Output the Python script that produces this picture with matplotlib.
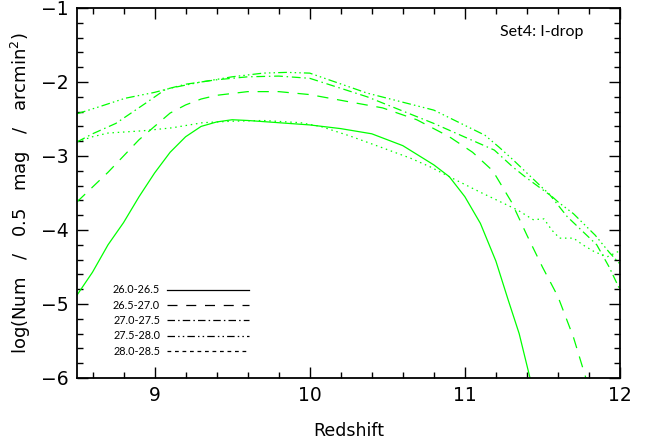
import matplotlib
matplotlib.use("Agg")
import matplotlib.pyplot as plt
from matplotlib.lines import Line2D
from matplotlib.ticker import MultipleLocator

# log(Num / 0.5 mag / arcmin^2) vs redshift, one curve per magnitude bin
z_a = [8.5, 8.6, 8.7, 8.8, 8.9, 9.0, 9.1, 9.2, 9.3, 9.4, 9.5, 9.6, 9.8, 10.0,
       10.2, 10.4, 10.6, 10.7, 10.8, 10.9, 11.0, 11.1, 11.2, 11.28, 11.35, 11.42]
m26_0 = [-4.88, -4.57, -4.2, -3.9, -3.55, -3.23, -2.95, -2.74, -2.6, -2.54, -2.51, -2.52, -2.55, -2.58,
         -2.63, -2.7, -2.86, -2.99, -3.12, -3.28, -3.55, -3.91, -4.42, -4.95, -5.4, -6.0]

z_b = [8.5, 8.6, 8.7, 8.8, 8.9, 9.0, 9.1, 9.2, 9.3, 9.4, 9.6, 9.8, 10.0, 10.26, 10.47, 10.69,
       10.9, 11.05, 11.18, 11.3, 11.4, 11.5, 11.6, 11.7, 11.78]
m26_5 = [-3.62, -3.42, -3.22, -3.0, -2.78, -2.6, -2.42, -2.31, -2.23, -2.18, -2.13, -2.13, -2.17, -2.27, -2.35, -2.51,
         -2.74, -2.95, -3.2, -3.62, -4.07, -4.5, -4.9, -5.45, -6.0]

z_c = [8.5, 8.6, 8.75, 8.94, 9.07, 9.2, 9.4, 9.6, 9.8, 10.0, 10.37, 10.8, 11.19, 11.31, 11.4,
       11.55, 11.66, 11.75, 11.85, 11.93, 12.0]
m27_0 = [-2.81, -2.7, -2.56, -2.29, -2.1, -2.03, -1.97, -1.93, -1.92, -1.95, -2.2, -2.56, -2.92, -3.15, -3.3,
         -3.53, -3.82, -4.0, -4.2, -4.5, -4.81]

z_d = [8.5, 8.65, 8.81, 9.0, 9.11, 9.3, 9.5, 9.7, 9.85, 10.0, 10.37, 10.8, 11.13, 11.22, 11.31,
       11.4, 11.5, 11.6, 11.7, 11.84, 11.93, 12.0]
m27_5 = [-2.43, -2.33, -2.22, -2.14, -2.08, -2.0, -1.93, -1.88, -1.87, -1.88, -2.15, -2.38, -2.72, -2.88, -3.05,
         -3.23, -3.43, -3.62, -3.78, -4.07, -4.3, -4.46]

z_e = [8.5, 8.6, 8.7, 8.92, 9.11, 9.31, 9.5, 9.7, 9.94, 10.07, 10.26, 10.47, 10.65, 10.78, 10.9,
       11.1, 11.23, 11.34, 11.44, 11.51, 11.56, 11.61, 11.7, 11.76, 11.84, 11.92, 12.0]
m28_0 = [-2.81, -2.74, -2.69, -2.66, -2.62, -2.55, -2.53, -2.52, -2.55, -2.6, -2.73, -2.89, -3.03, -3.15, -3.28,
         -3.49, -3.62, -3.73, -3.86, -3.85, -4.0, -4.11, -4.11, -4.2, -4.3, -4.36, -4.28]

labels = ["26.0-26.5", "26.5-27.0", "27.0-27.5", "27.5-28.0", "28.0-28.5"]
curves = [(z_a, m26_0), (z_b, m26_5), (z_c, m27_0), (z_d, m27_5), (z_e, m28_0)]
styles = ["-", (0, (9, 7)), (0, (7, 3, 1.2, 3)), (0, (7, 2.5, 1.2, 2.5, 1.2, 2.5, 1.2, 2.5)), (0, (1.2, 3))]
leg_styles = ["-", (0, (8, 7)), (0, (6, 2.5, 1.2, 2.5)), (0, (6, 2.5, 1.2, 2.5, 1.2, 2.5)), (0, (3, 3))]

fig = plt.figure(figsize=(6.45, 4.43), dpi=100)
ax = fig.add_axes([77 / 645, 1 - 378 / 443, (620 - 77) / 645, (378 - 8) / 443])

for (z, m), ls in zip(curves, styles):
    ax.plot(z, m, color="#00ff00", lw=0.9, linestyle=ls)

ax.set_xlim(8.5, 12)
ax.set_ylim(-6, -1)
ax.xaxis.set_major_locator(MultipleLocator(1))
ax.xaxis.set_minor_locator(MultipleLocator(0.2))
ax.yaxis.set_major_locator(MultipleLocator(1))
ax.yaxis.set_minor_locator(MultipleLocator(0.2))
ax.tick_params(which="both", direction="in", top=True, right=True, width=1.0)
ax.tick_params(which="major", length=8, labelsize=13.5, pad=6)
ax.tick_params(which="minor", length=4)
for sp in ax.spines.values():
    sp.set_linewidth(1.3)

ax.set_xlabel("Redshift", fontsize=12.5, labelpad=12)
ax.set_ylabel("log(Num   /   0.5   mag   /   arcmin$^2$)", fontsize=13, labelpad=6)

ax.text(0.932, 0.935, "Set4: I-drop", transform=ax.transAxes, ha="right", va="center",
        fontsize=11.5, family="Lato")

handles = [Line2D([], [], color="black", lw=0.9, linestyle=ls) for ls in leg_styles]
ax.legend(handles, labels, loc="lower left", bbox_to_anchor=(0.058, 0.046), frameon=False,
          markerfirst=False, handlelength=7.6, handletextpad=0.6, labelspacing=0.4,
          prop={"family": "Lato", "size": 7.8}, borderaxespad=0)

fig.savefig("out.png", dpi=100)
